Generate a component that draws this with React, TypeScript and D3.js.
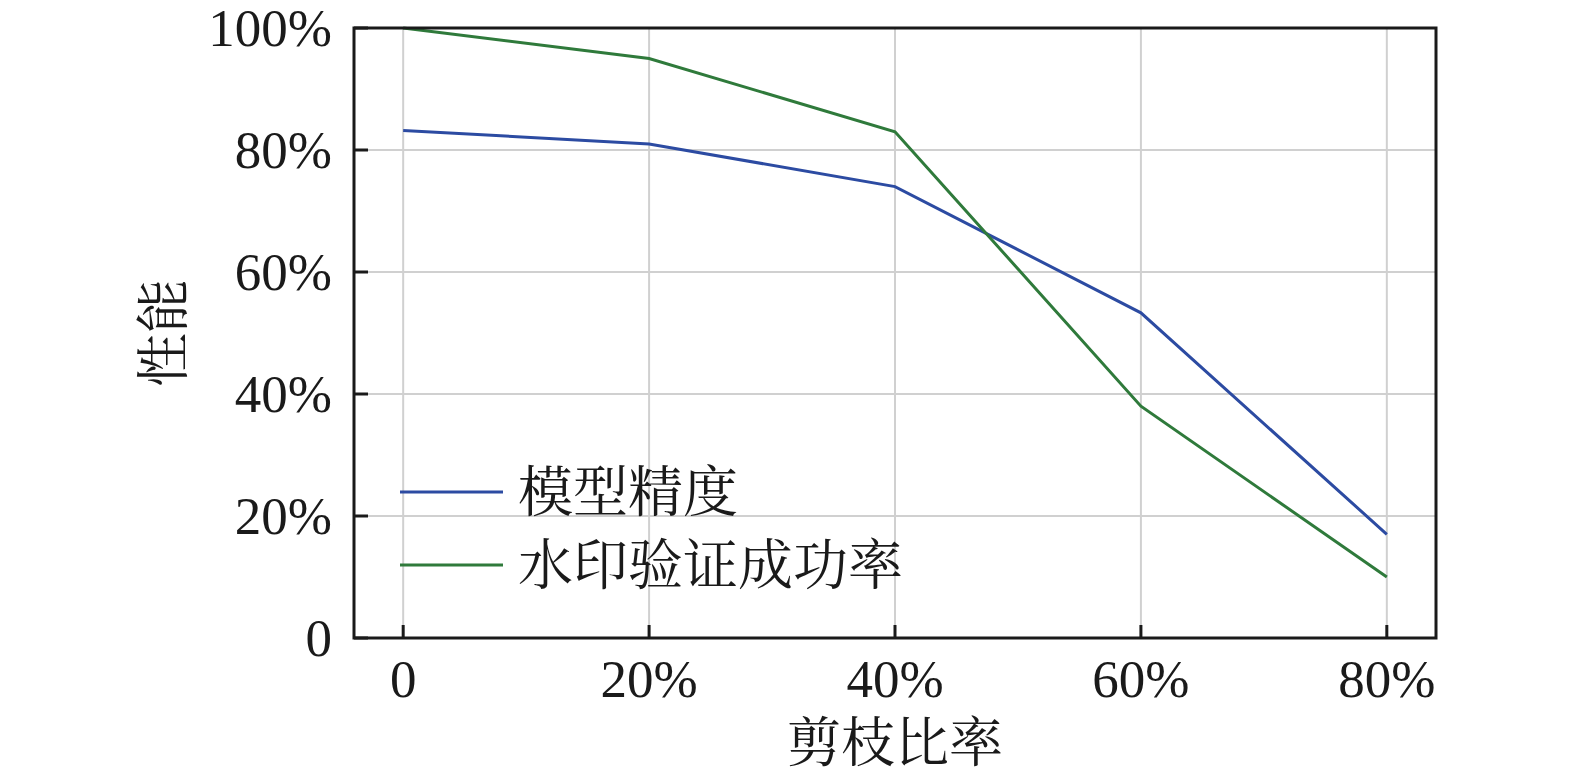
import React from 'react'
import * as d3 from 'd3'

const ratios = [0, 20, 40, 60, 80]
const accuracy = [83.2, 81, 74, 53.3, 17]
const watermark = [100, 95, 83, 38, 10]
const yTicks = [0, 20, 40, 60, 80, 100]
const seriesNames = ['模型精度', '水印验证成功率']
const seriesColors = ['#2c4ba2', '#2f7a3b']

const serif = '"Liberation Serif", "Times New Roman", serif'
const cjk = '"Liberation Serif", "Noto Serif CJK SC", "Noto Sans CJK SC", serif'

export default function App() {
	const width = 1575
	const height = 777
	const margin = { top: 28, right: 139, bottom: 139, left: 354 }
	const innerW = width - margin.left - margin.right
	const innerH = height - margin.top - margin.bottom

	const x = d3.scaleLinear().domain([-4, 84]).range([0, innerW])
	const y = d3.scaleLinear().domain([0, 100]).range([innerH, 0])

	const line = d3
		.line<number>()
		.x((_, i) => x(ratios[i]))
		.y((d) => y(d))

	const fmt = (v: number) => (v === 0 ? '0' : `${v}%`)
	const series = [accuracy, watermark]

	return (
		<svg width={width} height={height} style={{ position: 'absolute', left: 0, top: 0 }}>
			<rect width={width} height={height} fill="#fff" />
			<g transform={`translate(${margin.left},${margin.top})`}>
				{/* grid */}
				{ratios.map((r) => (
					<line key={'gx' + r} x1={x(r)} x2={x(r)} y1={0} y2={innerH} stroke="#d0d0d0" strokeWidth={2} />
				))}
				{yTicks.map((t) => (
					<line key={'gy' + t} x1={0} x2={innerW} y1={y(t)} y2={y(t)} stroke="#d0d0d0" strokeWidth={2} />
				))}

				{/* series */}
				{series.map((s, i) => (
					<path key={'s' + i} d={line(s) || ''} fill="none" stroke={seriesColors[i]} strokeWidth={3} />
				))}

				{/* ticks */}
				{ratios.map((r) => (
					<line key={'tx' + r} x1={x(r)} x2={x(r)} y1={innerH} y2={innerH - 13} stroke="#1a1a1a" strokeWidth={3} />
				))}
				{yTicks.map((t) => (
					<line key={'ty' + t} x1={0} x2={14} y1={y(t)} y2={y(t)} stroke="#1a1a1a" strokeWidth={3} />
				))}

				{/* frame */}
				<rect x={0} y={0} width={innerW} height={innerH} fill="none" stroke="#1a1a1a" strokeWidth={3} />

				{/* tick labels */}
				{ratios.map((r) => (
					<text key={'lx' + r} x={x(r)} y={innerH + 59} textAnchor="middle" fontFamily={serif} fontSize={53} fill="#1a1a1a">
						{fmt(r)}
					</text>
				))}
				{yTicks.map((t) => (
					<text key={'ly' + t} x={-22} y={y(t) + 18} textAnchor="end" fontFamily={serif} fontSize={53} fill="#1a1a1a">
						{fmt(t)}
					</text>
				))}

				{/* axis titles */}
				<text x={x(40)} y={innerH + 124} textAnchor="middle" fontFamily={cjk} fontSize={54} fill="#1a1a1a">
					剪枝比率
				</text>
				<text
					transform={`translate(${-190},${innerH / 2}) rotate(-90)`}
					textAnchor="middle"
					dy="0.35em"
					fontFamily={cjk}
					fontSize={54}
					fill="#1a1a1a"
				>
					性能
				</text>

				{/* legend */}
				{seriesNames.map((name, i) => (
					<g key={'lg' + i} transform={`translate(46,${464 + i * 73})`}>
						<line x1={0} x2={103} y1={0} y2={0} stroke={seriesColors[i]} strokeWidth={3} />
						<text x={118} y={0} dy="0.35em" fontFamily={cjk} fontSize={55} fill="#1a1a1a">
							{name}
						</text>
					</g>
				))}
			</g>
		</svg>
	)
}
